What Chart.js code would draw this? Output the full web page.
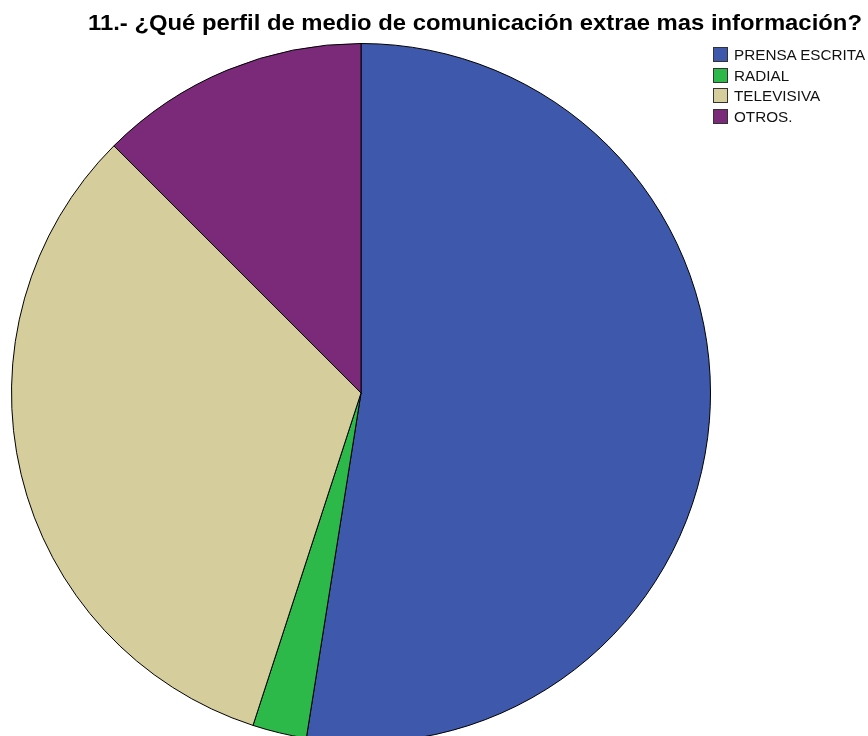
<!DOCTYPE html>
<html>
<style>
body {
    margin: 0;
    width: 868px;
    height: 736px;
    overflow: hidden;
    background: #fff;
    font-family: "Liberation Sans", Arial, sans-serif;
}
#wrap {
    position: relative;
    width: 868px;
    height: 760px;
}
#titulo {
    position: absolute;
    left: 88px;
    top: 11px;
    font-size: 22px;
    line-height: 24px;
    font-weight: bold;
    color: #000;
    white-space: nowrap;
    transform-origin: left top;
}
#leyenda {
    position: absolute;
    left: 713px;
    top: 47px;
    font-size: 14px;
    color: #111;
}
.item {
    position: relative;
    height: 20.5px;
    white-space: nowrap;
}
.caja {
    position: absolute;
    left: 0;
    top: 0;
    width: 13px;
    height: 13px;
    border: 1px solid #333;
}
.texto {
    position: absolute;
    left: 21px;
    top: 0px;
    line-height: 16px;
    transform: scaleX(1.09);
    transform-origin: left top;
}
</style>
  <head>
    <meta charset="utf-8">
    <title>Perfil de medio</title>
  </head>
  <body>
    <div id="wrap">
      <canvas id="myChart" width="868" height="760"></canvas>
      <div id="titulo">11.- ¿Qué perfil de medio de comunicación extrae mas información?</div>
      <div id="leyenda"></div>
    </div>

    <script src="https://cdn.jsdelivr.net/npm/chart.js@4/dist/chart.umd.min.js"></script>
    <script type="text/javascript">
      const medios = ['PRENSA ESCRITA', 'RADIAL', 'TELEVISIVA', 'OTROS.'];
      const respuestas = [21, 1, 13, 5];
      const colores = ['#3e58ab', '#2db84a', '#d5cd9b', '#7b2a7a'];

      // el titulo va un poco ensanchado, hasta x=862
      const titulo = document.getElementById('titulo');
      titulo.style.transform = 'scaleX(' + (774 / titulo.offsetWidth) + ')';

      // leyenda a mano, arriba a la derecha
      const leyenda = document.getElementById('leyenda');
      medios.forEach((m, i) => {
        const fila = document.createElement('div');
        fila.className = 'item';
        fila.innerHTML = '<span class="caja" style="background:' + colores[i] + '"></span>' +
                         '<span class="texto">' + m + '</span>';
        leyenda.appendChild(fila);
      });

      var ctx = document.getElementById('myChart').getContext('2d');
      var chart = new Chart(ctx, {
          type: 'pie',
          data: {
              labels: medios,
              datasets: [{
                  data: respuestas,
                  backgroundColor: colores,
                  borderColor: '#000',
                  borderWidth: 1
              }]
          },
          options: {
            responsive: false,
            animation: false,
            layout: {
              padding: { left: 11, right: 157, top: 43, bottom: 17 }
            },
            plugins: {
              legend: { display: false },
              title: { display: false },
              tooltip: { enabled: false }
            }
          }
      });
    </script>
  </body>
</html>
